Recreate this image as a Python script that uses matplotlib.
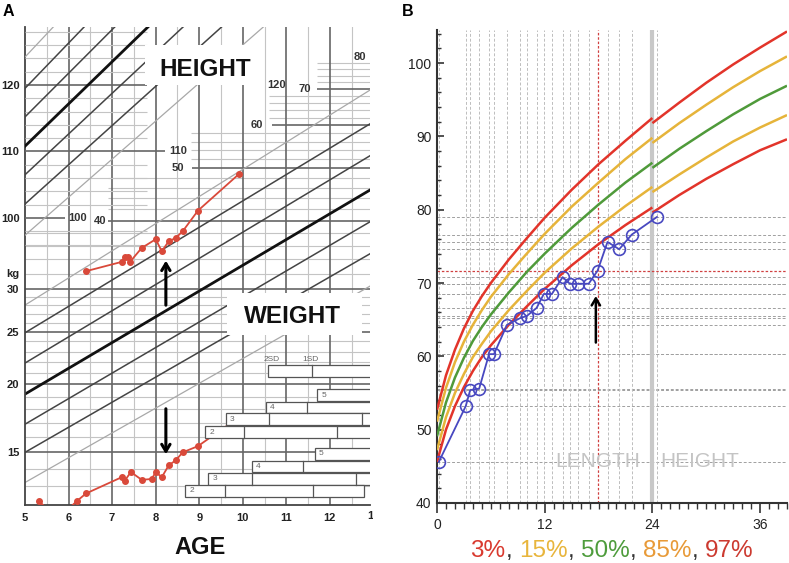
import numpy as np
import matplotlib
matplotlib.use("Agg")
import matplotlib.pyplot as plt
from matplotlib.patches import Rectangle
from matplotlib.transforms import Bbox, TransformedBbox, blended_transform_factory
from matplotlib.ticker import NullLocator, MultipleLocator

plt.rcParams['font.family'] = ['Liberation Sans', 'DejaVu Sans']

W, H = 789, 563

# ================= Panel A data =================
age_ticks = [5, 6, 7, 8, 9, 10, 11, 12]
half_years = [5.5, 6.5, 7.5, 8.5, 9.5, 10.5, 11.5, 12.5]
height_ticks = [100, 110, 120]
weight_ticks = [15, 20, 25, 30]

# reference SD lines (-3 .. +3 SD): values at age 5 and at age 13
sd_ages = [5, 13]
height_sd_at5 = [97.4, 102.1, 106.5, 110.8, 115.2, 119.5, 124.2]
height_sd_at13 = [143.2, 149.3, 155.5, 161.6, 167.7, 173.9, 180.0]
weight_sd_at5 = [13.2, 15.0, 16.9, 19.2, 21.9, 24.9, 28.0]
weight_sd_at13 = [30.6, 35.1, 40.2, 46.0, 53.2, 60.9, 70.3]

# patient measurements
pat_h_age = [6.40, 7.22, 7.29, 7.36, 7.41, 7.68, 8.00, 8.14, 8.30, 8.46, 8.62, 8.97, 9.91]
pat_h = [92.0, 93.4, 94.1, 94.1, 93.4, 95.5, 96.8, 95.0, 96.5, 97.0, 98.0, 101.1, 106.6]
pat_w_age = [5.32, 5.75, 6.19, 6.40, 7.22, 7.29, 7.43, 7.68, 7.91, 8.00, 8.14, 8.30, 8.46, 8.62, 8.97, 9.91]
pat_w = [12.2, 11.3, 12.2, 12.6, 13.5, 13.3, 13.8, 13.35, 13.4, 13.8, 13.5, 14.2, 14.5, 15.0, 15.4, 17.4]

# grid lines
weight_minor_kg = [13, 14, 16, 17, 18, 19, 21, 22, 23, 24, 26, 27, 28, 29]
weight_upper_kg = [32, 34, 36, 38, 42, 44, 46, 48, 52, 54, 56, 58, 62, 64, 66, 68, 72, 74, 76, 78]
weight_upper_start = [5.0, 5.0, 5.0, 5.0, 6.9, 6.9, 6.9, 6.9, 8.8, 8.8, 8.8, 8.8,
                      10.6, 10.6, 10.6, 10.6, 11.7, 11.7, 11.7, 11.7]
weight_major_upper = [40, 50, 60, 70]
weight_major_upper_start = [6.90, 8.83, 10.66, 11.71]
weight_upper_labels = ['40', '50', '60', '70', '80']
weight_upper_label_age = [6.58, 8.36, 10.18, 11.28, 12.55]
weight_upper_label_kg = [40, 50, 60, 70, 80]
height_minor_cm = [96, 98, 102, 104, 106, 108, 112, 114, 116, 118, 122, 124, 126, 128]
height_major_end = [5.92, 8.21, 7.80]
height_labels = ['100', '110', '120']
height_label_age = [6.0, 8.30, 10.55]

# puberty-stage bars (lower-right)
pub_up_labels = ['', '5', '4', '3', '2']
pub_up_start = [10.57, 11.70, 10.53, 9.61, 9.13]
pub_up_end = [13.3, 13.3, 13.3, 13.3, 13.3]
pub_up_div = [[11.58], [], [11.47], [10.60, 12.73], [10.02, 12.16]]
pub_up_y = [0.2803, 0.2301, 0.2040, 0.1799, 0.1527]
pub_lo_labels = ['5', '4', '3', '2']
pub_lo_start = [11.65, 10.21, 9.20, 8.67]
pub_lo_end = [13.3, 13.3, 13.3, 12.78]
pub_lo_div = [[], [11.38], [10.21, 12.61], [9.59, 11.61]]
pub_lo_y = [0.1067, 0.0805, 0.0544, 0.0293]

# ================= Panel B data =================
months_len = [0, 1, 2, 3, 4, 5, 6, 8, 10, 12, 15, 18, 21, 24]
p3_len = [45.6, 50.0, 53.2, 55.8, 58.0, 59.9, 61.5, 64.3, 66.8, 69.2, 72.4, 75.3, 77.9, 80.3]
p15_len = [47.2, 51.7, 55.0, 57.6, 59.9, 61.7, 63.4, 66.3, 68.9, 71.4, 74.7, 77.7, 80.5, 83.1]
p50_len = [49.1, 53.7, 57.1, 59.8, 62.1, 64.0, 65.7, 68.7, 71.5, 74.0, 77.5, 80.7, 83.7, 86.4]
p85_len = [51.1, 55.7, 59.2, 62.0, 64.3, 66.3, 68.1, 71.2, 74.0, 76.7, 80.4, 83.7, 86.9, 89.8]
p97_len = [52.7, 57.4, 60.9, 63.8, 66.2, 68.2, 70.0, 73.2, 76.1, 78.9, 82.7, 86.2, 89.4, 92.5]
months_ht = [24, 27, 30, 33, 36, 39]
p3_ht = [79.6, 82.0, 84.2, 86.2, 88.1, 89.6]
p15_ht = [82.4, 84.8, 87.1, 89.3, 91.2, 92.9]
p50_ht = [85.7, 88.3, 90.7, 93.0, 95.1, 96.9]
p85_ht = [89.1, 91.8, 94.3, 96.7, 98.9, 100.9]
p97_ht = [91.8, 94.6, 97.3, 99.8, 102.1, 104.3]

pat_month = [0.2, 3.2, 3.7, 4.7, 5.8, 6.35, 7.8, 9.25, 10.0, 11.1, 11.9, 12.8, 14.0, 14.8,
             15.7, 16.9, 17.9, 19.0, 20.3, 21.7, 24.5]
pat_len = [45.6, 53.2, 55.4, 55.6, 60.3, 60.3, 64.3, 65.2, 65.5, 66.6, 68.5, 68.5, 70.8, 69.9,
           69.9, 69.9, 71.7, 75.6, 74.6, 76.6, 79.0]
highlight = 16
b_xticks = [0, 12, 24, 36]
b_yticks = [40, 50, 60, 70, 80, 90, 100]

legend_pieces = ["3%", ", ", "15%", ", ", "50%", ", ", "85%", ", ", "97%"]
legend_colors = ["#d93a2f", "#333333", "#e8b53c", "#333333", "#4e9c3c", "#333333",
                 "#e89a38", "#333333", "#cc3a30"]

# ================= Figure =================
fig = plt.figure(figsize=(W / 100, H / 100), dpi=100)


def rect(l, t, r, b):
    return [l / W, 1 - b / H, (r - l) / W, (b - t) / H]


LIGHT = '#c4c4c4'
TXT = '#222222'
NUMSZ = 8

axw = fig.add_axes(rect(25, 27, 370, 505))
axw.set_yscale('log')
axw.set_xlim(5, 12.92)
axw.set_ylim(12.0, 91.0)
axh = axw.twinx()
axh.set_ylim(56.84, 128.72)
axh.set_xlim(5, 12.92)

for a in (axw, axh):
    for s in a.spines.values():
        s.set_visible(False)
for s in ('left', 'bottom'):
    axw.spines[s].set_visible(True)
    axw.spines[s].set_color('#444444')
    axw.spines[s].set_linewidth(1.3)

# vertical grid
for x in age_ticks[1:]:
    axw.axvline(x, color='#666666', lw=1.2, zorder=1)
for x in half_years:
    axw.axvline(x, color=LIGHT, lw=0.8, zorder=0.9)

# weight horizontal grid
axw.hlines(weight_minor_kg, 5, 13, color=LIGHT, lw=0.8, zorder=0.8)
axw.hlines(weight_upper_kg, weight_upper_start, 13, color=LIGHT, lw=0.8, zorder=0.8)
axw.hlines(weight_ticks, 5, 13, color='#666666', lw=1.2, zorder=1)
axw.hlines(weight_major_upper, weight_major_upper_start, 13, color='#666666', lw=1.2, zorder=1)
for lab, a_, kg in zip(weight_upper_labels, weight_upper_label_age, weight_upper_label_kg):
    axw.text(a_, kg, lab, fontsize=NUMSZ, fontweight='bold', color='#333333',
             ha='left', va='center', zorder=3)

# weight SD lines
for i in range(7):
    if i == 3:
        c, lw = '#111111', 2.0
    elif i in (0, 6):
        c, lw = '#a8a8a8', 0.9
    else:
        c, lw = '#444444', 1.1
    axw.plot(sd_ages, [weight_sd_at5[i], weight_sd_at13[i]], color=c, lw=lw, zorder=2)

# weight data
axw.plot(pat_w_age, pat_w, color='#d9493a', lw=1.3, marker='o', ms=4, zorder=4)

axw.yaxis.set_minor_locator(NullLocator())
axw.set_yticks(weight_ticks + [32.1])
axw.set_yticklabels([str(v) for v in weight_ticks] + ['kg'])
axw.set_xticks(age_ticks)
axw.set_xticklabels([str(v) for v in age_ticks])
axw.tick_params(axis='both', length=0, labelsize=NUMSZ, labelcolor=TXT, pad=4)
for lab in axw.get_xticklabels() + axw.get_yticklabels():
    lab.set_fontweight('bold')
axw.tick_params(axis='x', pad=6)

# clipped "13" tick label at the image edge
t13 = axw.text(13, -0.0125, '13', transform=blended_transform_factory(axw.transData, axw.transAxes),
               fontsize=NUMSZ, fontweight='bold', color=TXT, ha='center', va='top', clip_on=True)
t13.set_clip_box(TransformedBbox(Bbox([[0, 0], [373 / W, 1]]), fig.transFigure))

# height grid
axh.hlines(height_minor_cm, 5, 7.8, color=LIGHT, lw=0.8, zorder=0.8)
axh.hlines(height_ticks, 5, height_major_end, color='#666666', lw=1.2, zorder=1)
for lab, a_, cm in zip(height_labels, height_label_age, height_ticks):
    axh.text(a_, cm, lab, fontsize=NUMSZ, fontweight='bold', color='#333333',
             ha='left', va='center', zorder=3)

# height SD lines
for i in range(7):
    if i == 3:
        c, lw = '#111111', 2.0
    elif i in (0, 6):
        c, lw = '#a8a8a8', 0.9
    else:
        c, lw = '#444444', 1.1
    axh.plot(sd_ages, [height_sd_at5[i], height_sd_at13[i]], color=c, lw=lw, zorder=2)

# height data
axh.plot(pat_h_age, pat_h, color='#d9493a', lw=1.3, marker='o', ms=4, zorder=4)

axh.yaxis.tick_left()
axh.set_yticks(height_ticks)
axh.set_yticklabels([str(v) for v in height_ticks])
axh.tick_params(axis='y', length=0, labelsize=NUMSZ, labelcolor=TXT, pad=4)
for lab in axh.get_yticklabels():
    lab.set_fontweight('bold')

# HEIGHT / WEIGHT labels with white boxes
axh.add_patch(Rectangle((0.348, 0.879), 0.342, 0.083, transform=axh.transAxes,
                        facecolor='white', edgecolor='none', zorder=6))
axh.text(0.522, 0.897, 'HEIGHT', transform=axh.transAxes, fontsize=17.5, fontweight='bold',
         ha='center', va='baseline', color='#111111', zorder=7)
axh.add_patch(Rectangle((0.586, 0.356), 0.391, 0.088, transform=axh.transAxes,
                        facecolor='white', edgecolor='none', zorder=6))
axh.text(0.774, 0.381, 'WEIGHT', transform=axh.transAxes, fontsize=17.5, fontweight='bold',
         ha='center', va='baseline', color='#111111', zorder=7)

# puberty bars
btr = blended_transform_factory(axh.transData, axh.transAxes)
bh = 0.024


def draw_rows(labels, starts, ends, divs, ys):
    for lab, x0, x1, dv, yc in zip(labels, starts, ends, divs, ys):
        axh.add_patch(Rectangle((x0, yc - bh / 2), x1 - x0, bh, transform=btr,
                                facecolor='white', edgecolor='#555555', lw=0.9, zorder=5))
        for d in dv:
            axh.plot([d, d], [yc - bh / 2, yc + bh / 2], transform=btr, color='#555555',
                     lw=0.9, zorder=5.5)
        if lab:
            axh.text(x0 + 0.1, yc, lab, transform=btr, fontsize=6, color='#666666',
                     ha='left', va='center', zorder=5.6)


draw_rows(pub_up_labels, pub_up_start, pub_up_end, pub_up_div, pub_up_y)
draw_rows(pub_lo_labels, pub_lo_start, pub_lo_end, pub_lo_div, pub_lo_y)
axh.text(10.67, 0.305, '2SD', transform=btr, fontsize=6, color='#666666', ha='center', va='center', zorder=5.6)
axh.text(11.56, 0.305, '1SD', transform=btr, fontsize=6, color='#666666', ha='center', va='center', zorder=5.6)

# arrows
axh.annotate('', xy=(8.234, 94.0), xytext=(8.234, 86.47),
             arrowprops=dict(arrowstyle='->,head_length=0.5,head_width=0.3', lw=2.2, color='black'),
             zorder=8)
axh.annotate('', xy=(8.234, 64.06), xytext=(8.234, 71.73),
             arrowprops=dict(arrowstyle='->,head_length=0.5,head_width=0.3', lw=2.2, color='black'),
             zorder=8)

fig.text(200 / W, 1 - 548 / H, 'AGE', fontsize=17, fontweight='bold', ha='center', va='center', color='#111111')
fig.text(3 / W, 1 - 11 / H, 'A', fontsize=11.5, fontweight='bold', ha='left', va='center')
fig.text(402 / W, 1 - 11 / H, 'B', fontsize=11.5, fontweight='bold', ha='left', va='center')

# ================= Panel B =================
axb = fig.add_axes(rect(437, 30, 787, 503))
axb.set_xlim(0, 39.0)
axb.set_ylim(40, 104.5)
for s in ('top', 'right'):
    axb.spines[s].set_visible(False)
for s in ('left', 'bottom'):
    axb.spines[s].set_color('#333333')
    axb.spines[s].set_linewidth(1.5)

for i, (mx, ly) in enumerate(zip(pat_month, pat_len)):
    if i == highlight:
        continue
    axb.axvline(mx, color='#bdbdbd', lw=0.7, ls=(0, (3, 2)), zorder=1)
    axb.axhline(ly, color='#a0a0a0', lw=0.7, ls=(0, (3, 2)), zorder=1)
axb.axvline(pat_month[highlight], color='#d04040', lw=0.9, ls=(0, (2, 1.5)), zorder=1.5)
axb.axhline(pat_len[highlight], color='#d04040', lw=0.9, ls=(0, (2, 1.5)), zorder=1.5)
axb.axvline(24, color='#c8c8c8', lw=3, zorder=1.2)

RED, YEL, GRN = '#e2342a', '#e6b43a', '#4f9a3a'
for xs, ys, c in [(months_len, p3_len, RED), (months_len, p15_len, YEL), (months_len, p50_len, GRN),
                  (months_len, p85_len, YEL), (months_len, p97_len, RED),
                  (months_ht, p3_ht, RED), (months_ht, p15_ht, YEL), (months_ht, p50_ht, GRN),
                  (months_ht, p85_ht, YEL), (months_ht, p97_ht, RED)]:
    axb.plot(xs, ys, color=c, lw=1.8, zorder=3, solid_capstyle='butt')

axb.plot(pat_month, pat_len, color='#4848c0', lw=1.3, marker='o', ms=8.5, mfc='none',
         mec='#4848c0', mew=1.2, zorder=4)

axb.text(17.9, 45.6, 'LENGTH', fontsize=15, color='#c4c4c4', ha='center', va='center', zorder=2)
axb.text(29.3, 45.6, 'HEIGHT', fontsize=15, color='#c4c4c4', ha='center', va='center', zorder=2)

axb.annotate('', xy=(17.7, 68.6), xytext=(17.7, 61.5),
             arrowprops=dict(arrowstyle='->,head_length=0.5,head_width=0.3', lw=1.8, color='black'),
             zorder=8)

axb.set_xticks(b_xticks)
axb.set_yticks(b_yticks)
axb.xaxis.set_minor_locator(MultipleLocator(1))
axb.yaxis.set_minor_locator(MultipleLocator(2))
axb.tick_params(axis='y', which='major', direction='in', length=5, width=1.2, labelsize=10,
                labelcolor=TXT, pad=4, color='#333333')
axb.tick_params(axis='y', which='minor', direction='in', length=3, width=1, color='#333333')
axb.tick_params(axis='x', which='major', direction='out', length=7, width=1.2, labelsize=10,
                labelcolor=TXT, pad=4, color='#333333')
axb.tick_params(axis='x', which='minor', direction='out', length=4.5, width=1, color='#333333')

# coloured percentile legend text
renderer = fig.canvas.get_renderer()
texts = []
x = 0.0
for s, c in zip(legend_pieces, legend_colors):
    t = fig.text(x, 6 / H, s, fontsize=17.5, color=c, ha='left', va='baseline')
    bb = t.get_window_extent(renderer)
    texts.append((t, x))
    x += bb.width / W
total = x
x0 = 612 / W - total / 2
for t, xo in texts:
    t.set_x(x0 + xo)

fig.savefig('out.png', dpi=100)
